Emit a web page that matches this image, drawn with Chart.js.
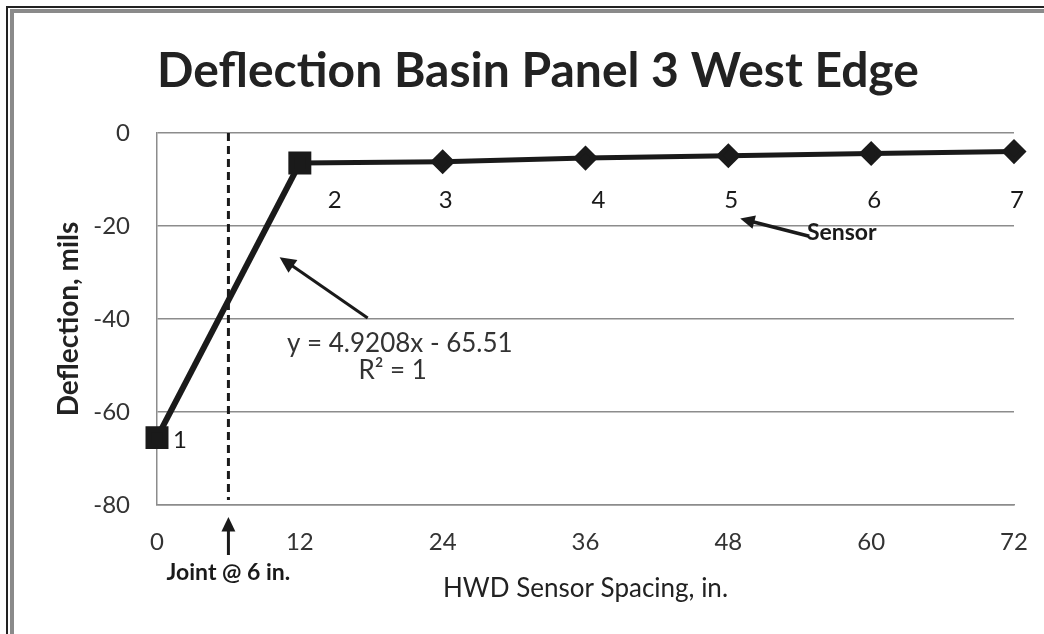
<!DOCTYPE html>
<html>
<head>
<meta charset="utf-8">
<script src="https://cdn.jsdelivr.net/npm/chart.js@4/dist/chart.umd.min.js"></script>
<style>
  html, body { margin: 0; padding: 0; background: #fff; }
  #wrap { position: relative; width: 1044px; height: 634px; overflow: hidden; }
  #chart { position: absolute; left: 0; top: 0; }
  .frame1 { position: absolute; left: 6px; top: 6px; right: -10px; bottom: -10px; border-left: 2px solid #222; border-top: 2px solid #222; pointer-events: none; }
  .frame2 { position: absolute; left: 10px; top: 9px; right: -10px; bottom: -10px; border-left: 4px solid #8a8a8a; border-top: 4px solid #8a8a8a; pointer-events: none; }
</style>
</head>
<body>
<div id="wrap">
  <canvas id="chart" width="1044" height="634"></canvas>
  <div class="frame1"></div>
  <div class="frame2"></div>
</div>
<script>
// dados
const chartTitle = 'Deflection Basin Panel 3 West Edge';
const spacing = [0, 12, 24, 36, 48, 60, 72];
const deflection = [-65.51, -6.46, -6.2, -5.4, -4.9, -4.4, -4.0];
const sensorLabels = ['1', '2', '3', '4', '5', '6', '7'];
const xTicks = [0, 12, 24, 36, 48, 60, 72];
const yTicks = [0, -20, -40, -60, -80];
const jointAt = 6;
const fitText = ['y = 4.9208x - 65.51', 'R² = 1'];

const ink = '#1a1a1a';
const gridGray = '#8c8c8c';
const FONT = 'Lato, "Open Sans", sans-serif';

// primeiro trecho (regressão 1-2) e segundo trecho (2-7)
const firstPart = spacing.slice(0, 2).map((x, i) => ({ x, y: deflection[i] }));
const secondPart = spacing.slice(1).map((x, i) => ({ x, y: deflection[i + 1] }));

function arrow(ctx, x1, y1, x2, y2, w, head) {
  const a = Math.atan2(y2 - y1, x2 - x1);
  ctx.save();
  ctx.strokeStyle = ink; ctx.fillStyle = ink; ctx.lineWidth = w;
  ctx.beginPath();
  ctx.moveTo(x1, y1);
  ctx.lineTo(x2 - Math.cos(a) * head * 0.8, y2 - Math.sin(a) * head * 0.8);
  ctx.stroke();
  ctx.beginPath();
  ctx.moveTo(x2, y2);
  ctx.lineTo(x2 - head * Math.cos(a - 0.45), y2 - head * Math.sin(a - 0.45));
  ctx.lineTo(x2 - head * Math.cos(a + 0.45), y2 - head * Math.sin(a + 0.45));
  ctx.closePath();
  ctx.fill();
  ctx.restore();
}

// anotações: título, junta, rótulos dos sensores, equação, setas
const notes = {
  id: 'notes',
  beforeDatasetsDraw(chart) {
    const { ctx, chartArea, scales: { x } } = chart;
    const jx = x.getPixelForValue(jointAt);
    ctx.save();
    ctx.strokeStyle = ink; ctx.lineWidth = 3;
    ctx.setLineDash([8, 5]);
    ctx.beginPath();
    ctx.moveTo(jx, chartArea.top);
    ctx.lineTo(jx, chartArea.bottom - 5);
    ctx.stroke();
    ctx.restore();
  },
  afterDatasetsDraw(chart) {
    const { ctx, chartArea, scales: { x, y } } = chart;
    const jx = x.getPixelForValue(jointAt);
    ctx.save();

    // título
    ctx.fillStyle = '#222';
    ctx.font = 'bold 48px ' + FONT;
    ctx.textAlign = 'center'; ctx.textBaseline = 'middle';
    ctx.fillText(chartTitle, 538, 72);

    // seta da junta
    arrow(ctx, jx, chartArea.bottom + 50, jx, chartArea.bottom + 12, 3, 16);
    ctx.fillStyle = ink;
    ctx.font = 'bold 23px ' + FONT;
    ctx.fillText('Joint @ 6 in.', jx, chartArea.bottom + 68);

    // números dos sensores
    ctx.font = '24px ' + FONT;
    sensorLabels.forEach((t, i) => {
      const px = x.getPixelForValue(spacing[i]);
      if (i === 0) {
        ctx.textAlign = 'left';
        ctx.fillText(t, px + 16, y.getPixelForValue(deflection[i]) + 3);
      } else {
        const dx = i === 1 ? 35 : (i === 3 ? 13 : 3);
        ctx.textAlign = 'center';
        ctx.fillText(t, px + dx, y.getPixelForValue(-14.5));
      }
    });

    // equação da reta
    ctx.fillStyle = '#333';
    ctx.font = '26px ' + FONT;
    ctx.textAlign = 'center';
    ctx.fillText(fitText[0], x.getPixelForValue(20.4), y.getPixelForValue(-45.3));
    ctx.fillText(fitText[1], x.getPixelForValue(19.8), y.getPixelForValue(-51.2));
    arrow(ctx, x.getPixelForValue(17.7), y.getPixelForValue(-39.8),
      x.getPixelForValue(10.3), y.getPixelForValue(-26.7), 3, 18);

    // sensor
    ctx.fillStyle = ink;
    ctx.font = 'bold 23px ' + FONT;
    ctx.textAlign = 'left';
    ctx.fillText('Sensor', x.getPixelForValue(54.6), y.getPixelForValue(-21.4));
    arrow(ctx, x.getPixelForValue(54.8), y.getPixelForValue(-22.2),
      x.getPixelForValue(49.0), y.getPixelForValue(-18.4), 3.5, 16);
    ctx.restore();
  }
};

new Chart(document.getElementById('chart'), {
  type: 'scatter',
  data: {
    datasets: [
      {
        data: firstPart, showLine: true, clip: false,
        borderColor: ink, backgroundColor: ink, borderWidth: 6,
        pointStyle: 'rect', pointRadius: 12, pointHoverRadius: 12
      },
      {
        data: secondPart, showLine: true, clip: false,
        borderColor: ink, backgroundColor: ink, borderWidth: 5,
        pointStyle: 'rectRot', pointRadius: [0, 9, 9, 9, 9, 9, 9], pointHoverRadius: 9
      }
    ]
  },
  options: {
    responsive: false, animation: false, events: [],
    layout: { padding: { left: 0, right: 30, top: 133, bottom: 0 } },
    plugins: {
      legend: { display: false }, tooltip: { enabled: false }, title: { display: false }
    },
    scales: {
      x: {
        type: 'linear', min: 0, max: 72,
        afterBuildTicks: s => { s.ticks = xTicks.map(v => ({ value: v })); },
        afterFit: s => { s.height = 129; },
        grid: { display: false },
        border: { display: true, color: gridGray, width: 1.5 },
        ticks: { color: '#333', padding: 15, maxRotation: 0, font: { family: FONT, size: 24 } },
        title: { display: true, text: 'HWD Sensor Spacing, in.', color: '#222', font: { family: FONT, size: 26 }, padding: { top: 0, bottom: 30 } }
      },
      y: {
        type: 'linear', min: -80, max: 0,
        afterBuildTicks: s => { s.ticks = yTicks.map(v => ({ value: v })); },
        afterFit: s => { s.width = 157; },
        grid: { color: gridGray, lineWidth: 1.5, drawTicks: false },
        border: { display: true, color: gridGray, width: 1.5 },
        ticks: { color: '#333', padding: 27, font: { family: FONT, size: 24 } },
        title: { display: true, text: 'Deflection, mils', color: '#222', font: { family: FONT, size: 28, weight: 'bold' }, padding: { top: 52, bottom: 0 } }
      }
    }
  },
  plugins: [notes]
});
</script>
</body>
</html>
